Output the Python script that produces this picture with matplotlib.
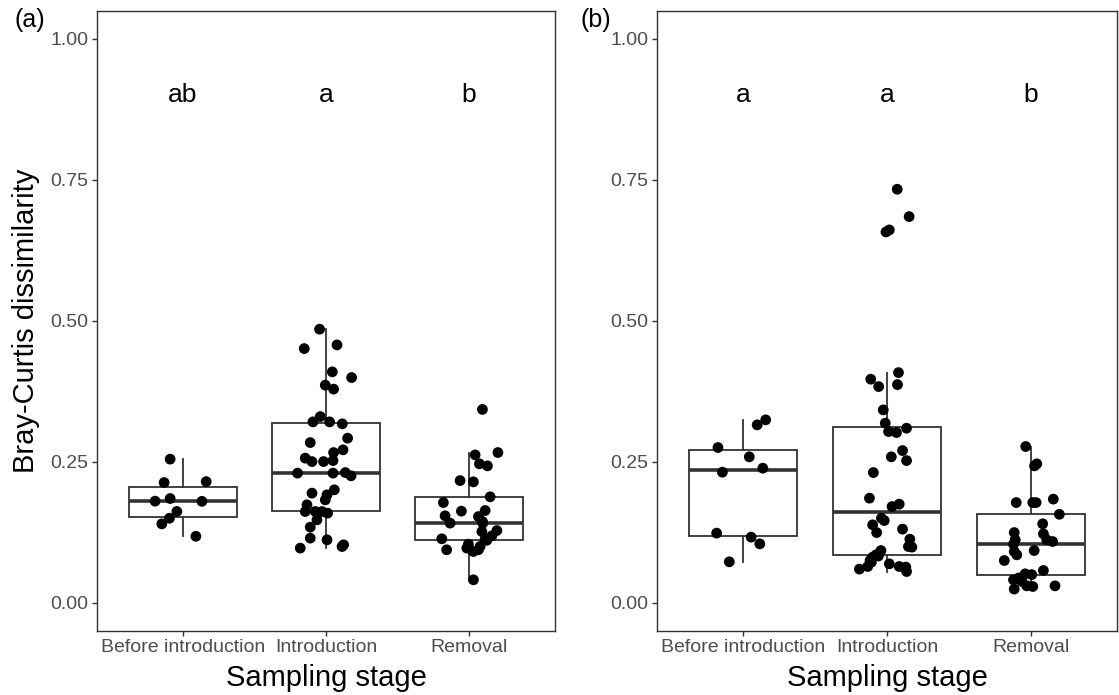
import matplotlib
matplotlib.use("Agg")
import matplotlib.pyplot as plt
import numpy as np

plt.rcParams['font.family'] = ['Liberation Sans', 'DejaVu Sans']

stages = ["Before introduction", "Introduction", "Removal"]

# ---- Panel (a): Bray-Curtis dissimilarity per sampling stage ----
a_before = [0.2548, 0.2133, 0.215, 0.1803, 0.185, 0.180, 0.162, 0.150, 0.140, 0.118]
a_intro = [0.4853, 0.4574, 0.4509, 0.4096, 0.3995, 0.386, 0.379, 0.3303, 0.3209, 0.3209,
           0.3174, 0.292, 0.2842, 0.2713, 0.2665, 0.2566, 0.2505, 0.2505, 0.2523, 0.23,
           0.23, 0.231, 0.2252, 0.2004, 0.1945, 0.1915, 0.1826, 0.1738, 0.162, 0.1619,
           0.1619, 0.159, 0.1472, 0.1342, 0.1147, 0.1117, 0.097, 0.0998, 0.1028]
a_removal = [0.343, 0.2665, 0.2624, 0.2465, 0.2429, 0.2168, 0.2145, 0.188, 0.1778, 0.1637,
             0.1626, 0.1543, 0.153, 0.1441, 0.1413, 0.1413, 0.1282, 0.1264, 0.1188, 0.1135,
             0.113, 0.111, 0.104, 0.100, 0.097, 0.094, 0.094, 0.091, 0.0408]

# ---- Panel (b) ----
b_before = [0.3245, 0.3156, 0.2754, 0.2589, 0.2317, 0.2388, 0.1236, 0.1165, 0.1046, 0.0727]
b_intro = [0.7335, 0.685, 0.6613, 0.6578, 0.4083, 0.3966, 0.387, 0.3835, 0.3422, 0.3186,
           0.3097, 0.3037, 0.302, 0.270, 0.2589, 0.2523, 0.231, 0.1856, 0.175, 0.1707,
           0.15, 0.1459, 0.1383, 0.1307, 0.1246, 0.1129, 0.0998, 0.0988, 0.0927, 0.0851,
           0.083, 0.081, 0.075, 0.072, 0.0691, 0.0644, 0.0644, 0.0633, 0.0598, 0.0555]
b_removal = [0.2772, 0.2465, 0.2429, 0.1839, 0.1778, 0.1778, 0.1778, 0.157, 0.1401, 0.1246,
             0.1223, 0.1117, 0.1117, 0.1087, 0.104, 0.0927, 0.091, 0.0851, 0.075, 0.0573,
             0.0514, 0.050, 0.044, 0.0408, 0.0378, 0.0301, 0.0289, 0.0301, 0.0243]

# horizontal jitter of each point (category units)
a_before_jit = [-0.089, -0.131, 0.163, -0.194, -0.089, 0.133, -0.042, -0.094, -0.147, 0.091]
a_intro_jit = [-0.045, 0.077, -0.152, 0.044, 0.179, -0.005, 0.053, -0.040, -0.091, 0.025,
               0.114, 0.151, -0.110, 0.119, 0.053, -0.145, -0.098, -0.017, 0.049, -0.199,
               0.049, 0.135, 0.175, 0.058, -0.098, 0.007, -0.005, -0.133, -0.075, -0.145,
               -0.028, 0.011, -0.063, -0.110, -0.110, 0.007, -0.180, 0.112, 0.123]
a_removal_jit = [0.093, 0.201, 0.042, 0.072, 0.128, -0.063, 0.030, 0.147, -0.180, 0.112,
                 -0.054, -0.168, 0.065, 0.093, -0.133, 0.096, 0.194, 0.089, 0.159, -0.191,
                 0.112, 0.124, -0.005, 0.077, -0.016, -0.157, 0.065, 0.030, 0.030]
b_before_jit = [0.156, 0.097, -0.176, 0.042, -0.145, 0.136, -0.185, 0.055, 0.115, -0.097]
b_intro_jit = [0.071, 0.154, 0.016, -0.007, 0.080, -0.113, 0.073, -0.058, -0.026, -0.012,
               0.136, 0.011, 0.066, 0.108, 0.030, 0.136, -0.095, -0.122, 0.085, 0.035,
               -0.039, -0.019, -0.100, 0.108, -0.072, 0.159, 0.149, 0.173, -0.042, -0.076,
               -0.060, -0.100, -0.118, -0.109, 0.016, -0.134, 0.085, 0.131, -0.192, 0.136]
b_removal_jit = [-0.035, 0.042, 0.026, 0.157, -0.101, 0.014, 0.037, 0.199, 0.083, -0.115,
                 0.088, -0.108, 0.111, 0.152, -0.120, 0.024, -0.115, -0.097, -0.184, 0.088,
                 -0.039, 0.007, -0.085, -0.120, -0.062, -0.028, 0.014, 0.169, -0.115]

a_letters = ["ab", "a", "b"]
b_letters = ["a", "a", "b"]

y_ticks = [0.00, 0.25, 0.50, 0.75, 1.00]
y_ticklabels = ["0.00", "0.25", "0.50", "0.75", "1.00"]

DARK = "#333333"
TICKTXT = "#4D4D4D"

fig = plt.figure(figsize=(11.19, 6.95), dpi=100)
W, H = 1119, 695


def panel(rect, groups, jitters, letters, show_ylabel):
    ax = fig.add_axes(rect)
    pos = np.arange(1, len(groups) + 1)
    ax.boxplot(groups, positions=pos, widths=0.75, whis=1.5, showfliers=False,
               patch_artist=True, showcaps=False,
               boxprops=dict(facecolor="white", edgecolor=DARK, linewidth=1.3),
               medianprops=dict(color=DARK, linewidth=2.6),
               whiskerprops=dict(color=DARK, linewidth=1.3),
               zorder=2)
    for p, vals, jit in zip(pos, groups, jitters):
        ax.scatter(p + np.asarray(jit), vals, s=60, color="black",
                   edgecolors="none", zorder=3)
    for p, lab in zip(pos, letters):
        ax.text(p, 0.9, lab, ha="center", va="center", fontsize=19, color="black")
    ax.set_xlim(0.4, 3.6)
    ax.set_ylim(-0.05, 1.05)
    ax.set_xticks(pos)
    ax.set_xticklabels(stages)
    ax.set_yticks(y_ticks)
    ax.set_yticklabels(y_ticklabels)
    for s in ax.spines.values():
        s.set_color(DARK)
        s.set_linewidth(1.0)
    ax.tick_params(axis="both", colors=DARK, labelcolor=TICKTXT, labelsize=14,
                   length=3.5, width=1.0, pad=2.5)
    ax.set_xlabel("Sampling stage", fontsize=21, color="black")
    ax.xaxis.label.set_va("center")
    ax.xaxis.set_label_coords(0.5, -0.075)
    if show_ylabel:
        ax.set_ylabel("Bray-Curtis dissimilarity", fontsize=21, color="black")
        ax.yaxis.label.set_va("center")
        ax.yaxis.set_label_coords((26 - 97) / 458, 0.5)
    return ax


bottom = (H - 631) / H
height = (631 - 10.8) / H
panel([97 / W, bottom, 458 / W, height],
      [a_before, a_intro, a_removal],
      [a_before_jit, a_intro_jit, a_removal_jit], a_letters, True)
panel([657 / W, bottom, 460 / W, height],
      [b_before, b_intro, b_removal],
      [b_before_jit, b_intro_jit, b_removal_jit], b_letters, False)

fig.text(15 / W, 1 - 20.5 / H, "(a)", ha="left", va="center", fontsize=18)
fig.text(580 / W, 1 - 20 / H, "(b)", ha="left", va="center", fontsize=18)

fig.savefig("out.png", dpi=100, facecolor="white")
